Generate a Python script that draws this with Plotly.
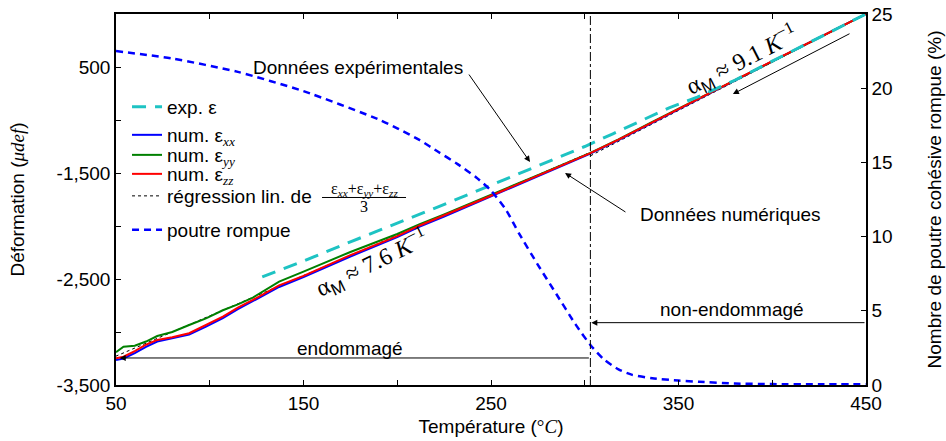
import plotly.graph_objects as go

# ---------------- data ----------------
T_num = [50, 54, 60, 66, 72, 80, 89, 98, 107, 115, 123, 137, 150, 175, 200, 212, 225,
         250, 275, 303, 318, 335, 350, 375, 400, 425, 450]
eps_xx = [-3265, -3250, -3200, -3140, -3090, -3062, -3025, -2950, -2868, -2785, -2708,
          -2575, -2482, -2288, -2105, -2005, -1910, -1722, -1532, -1318, -1190, -1035,
          -899, -673, -447, -223, 0]
eps_yy = [-3190, -3139, -3130, -3090, -3038, -3000, -2934, -2871, -2795, -2740, -2675,
          -2525, -2430, -2245, -2075, -1982, -1890, -1708, -1520, -1310, -1183, -1028,
          -893, -668, -443, -221, 0]
eps_zz = [-3248, -3233, -3180, -3120, -3075, -3050, -3012, -2935, -2855, -2770, -2698,
          -2560, -2470, -2275, -2095, -1995, -1900, -1715, -1525, -1312, -1185, -1030,
          -895, -670, -445, -222, 0]

T_exp = [128, 150, 175, 200, 228, 250, 275, 300, 315, 330, 345, 360, 380, 400, 425, 450]
eps_exp = [-2480, -2330, -2150, -1975, -1775, -1615, -1435, -1250, -1130, -1010, -885,
           -785, -625, -445, -222, 0]

# linear regressions of the mean strain (damaged / undamaged ranges)
T_reg = [41, 303, None, 303, 462]
eps_reg = [-3296, -1305, None, -1338, 109]

T_beam = [50, 80, 115, 150, 190, 200, 212, 222, 232, 242, 250, 258, 265, 275, 285, 295,
          303, 310, 318, 325, 336, 350, 361, 380, 400, 425, 450]
beam_pct = [22.5, 22.0, 21.1, 19.8, 17.9, 17.3, 16.5, 15.7, 14.9, 14.0, 13.1, 11.8, 10.2,
            8.1, 6.1, 4.1, 2.7, 1.75, 1.05, 0.7, 0.45, 0.3, 0.22, 0.1, 0.06, 0.05, 0.05]

T_transition = 303

x_tickvals = [50, 150, 250, 350, 450]
x_ticktext = ["50", "150", "250", "350", "450"]
y_tickvals = [-3500, -2500, -1500, -500]
y_ticktext = ["-3,500", "-2,500", "-1,500", "500"]
y2_tickvals = [0, 5, 10, 15, 20, 25]
y2_ticktext = ["0", "5", "10", "15", "20", "25"]

# ---------------- figure ----------------
SANS = "Liberation Sans, Arial, sans-serif"
SERIF = "Liberation Serif, Times New Roman, serif"
FS = 19

fig = go.Figure()

fig.add_trace(go.Scatter(x=T_reg, y=eps_reg, mode="lines", showlegend=True,
                         line=dict(color="black", width=1, dash="dot"),
                         name="régression lin. de", legend="legend5"))
fig.add_trace(go.Scatter(x=T_num, y=eps_xx, mode="lines", showlegend=True,
                         line=dict(color="#0000FF", width=2),
                         name="num. ε<span style='font-family:Liberation Serif'><sub><i>xx</i></sub></span>",
                         legend="legend2"))
fig.add_trace(go.Scatter(x=T_num, y=eps_yy, mode="lines", showlegend=True,
                         line=dict(color="#008000", width=2),
                         name="num. ε<span style='font-family:Liberation Serif'><sub><i>yy</i></sub></span>",
                         legend="legend3"))
fig.add_trace(go.Scatter(x=T_num, y=eps_zz, mode="lines", showlegend=True,
                         line=dict(color="#FF0000", width=2),
                         name="num. ε<span style='font-family:Liberation Serif'><sub><i>zz</i></sub></span>",
                         legend="legend4"))
fig.add_trace(go.Scatter(x=T_exp, y=eps_exp, mode="lines", showlegend=True,
                         line=dict(color="#1EC3C3", width=3, dash="14px,9px"),
                         name="exp. ε", legend="legend"))
fig.add_trace(go.Scatter(x=T_beam, y=beam_pct, mode="lines", yaxis="y2", showlegend=True,
                         line=dict(color="#0000FF", width=2.5, dash="7px,5px", shape="spline",
                                   smoothing=0.6),
                         name="poutre rompue", legend="legend6"))

axis_common = dict(showgrid=False, zeroline=False, showline=True, linecolor="black",
                   linewidth=1.5, ticks="inside", ticklen=5, tickwidth=1,
                   tickcolor="black", tickfont=dict(family=SANS, size=FS, color="black"))

fig.update_layout(
    width=946, height=441,
    margin=dict(l=116, r=80, t=14, b=56),
    paper_bgcolor="white", plot_bgcolor="white",
    showlegend=True,
    font=dict(family=SANS, size=FS, color="black"),
    xaxis=dict(range=[50, 450], tickmode="array", tickvals=x_tickvals,
               ticktext=x_ticktext, mirror="ticks", automargin=False,
               minor=dict(tick0=50, dtick=50, ticks="inside", ticklen=5, tickwidth=1,
                          tickcolor="black"),
               title=dict(text="Température (<span style='font-family:Liberation Serif'>°<i>C</i></span>)",
                          standoff=7, font=dict(size=FS)),
               **axis_common),
    yaxis=dict(range=[-3500, 0], tickmode="array", tickvals=y_tickvals,
               ticktext=y_ticktext, mirror=True, automargin=False,
               minor=dict(tick0=0, dtick=500, ticks="inside", ticklen=5, tickwidth=1,
                          tickcolor="black"),
               title=dict(text="Déformation (<span style='font-family:Liberation Serif'><i>μdef</i></span>)",
                          standoff=27, font=dict(size=FS)),
               **axis_common),
    yaxis2=dict(range=[0, 25], overlaying="y", side="right", tickmode="array",
                tickvals=y2_tickvals, ticktext=y2_ticktext, automargin=False,
                title=dict(text="Nombre de poutre cohésive rompue (%)", standoff=36,
                           font=dict(size=FS)),
                **axis_common),
)

legend_y = {"legend": 0.7493, "legend2": 0.6739, "legend3": 0.6199,
            "legend4": 0.5687, "legend5": 0.5094, "legend6": 0.4178}
for key, yv in legend_y.items():
    fig.update_layout({key: dict(x=0.0147, y=yv, xanchor="left", yanchor="middle",
                                 bgcolor="rgba(0,0,0,0)", borderwidth=0,
                                 font=dict(family=SANS, size=FS, color="black"),
                                 itemwidth=30, visible=True)})

# fraction of the regression legend entry
fig.add_annotation(xref="paper", yref="paper", x=0.3307, y=0.5283, xanchor="center",
                   yanchor="middle", showarrow=False,
                   text="ε<sub><i>xx</i></sub>+ε<sub><i>yy</i></sub>+ε<sub><i>zz</i></sub>",
                   font=dict(family=SERIF, size=16, color="black"))
fig.add_annotation(xref="paper", yref="paper", x=0.3307, y=0.4811, xanchor="center",
                   yanchor="middle", showarrow=False, text="3",
                   font=dict(family=SERIF, size=16, color="black"))
fig.add_shape(type="line", xref="paper", yref="paper", x0=0.2747, x1=0.3867,
              y0=0.5054, y1=0.5054, line=dict(color="black", width=1))

# vertical transition line
fig.add_shape(type="line", xref="x", yref="paper", x0=T_transition, x1=T_transition,
              y0=0, y1=1, line=dict(color="black", width=1, dash="dashdot"))

# arrows
arrows = [
    (270.8, -1396, 237.7, -557),    # Données expérimentales
    (289.5, -1500, 322.5, -1877),   # Données numériques
    (379.0, -755, 442.0, -179),     # alpha 9.1
    (303.5, -2912, 450.0, -2912),   # non-endommagé
    (52.0, -3245, 303.0, -3245),    # endommagé
]
for hx, hy, tx, ty in arrows:
    fig.add_annotation(x=hx, y=hy, ax=tx, ay=ty, xref="x", yref="y", axref="x",
                       ayref="y", text="", showarrow=True, arrowhead=2,
                       arrowsize=1.2, arrowwidth=1, arrowcolor="black")

texts = [
    (179, -509, "Données expérimentales"),
    (377.5, -1896, "Données numériques"),
    (378.4, -2792, "non-endommagé"),
    (174.8, -3151, "endommagé"),
]
for tx, ty, s in texts:
    fig.add_annotation(x=tx, y=ty, xref="x", yref="y", text=s, showarrow=False,
                       font=dict(family=SANS, size=FS, color="black"))

fig.add_annotation(x=383.9, y=-434, xref="x", yref="y", showarrow=False, textangle=-27,
                   text="α<sub><span style='font-family:Liberation Sans'>M</span></sub> ≈ 9.1 <i>K</i><sup>−1</sup>",
                   font=dict(family=SERIF, size=24, color="black"))
fig.add_annotation(x=186.5, y=-2349, xref="x", yref="y", showarrow=False, textangle=-26,
                   text="α<sub><span style='font-family:Liberation Sans'>M</span></sub> ≈ 7.6 <i>K</i><sup>−1</sup>",
                   font=dict(family=SERIF, size=24, color="black"))

fig.write_html("out.html", config={"displayModeBar": False},
               post_script="document.body.style.margin='0px';")
